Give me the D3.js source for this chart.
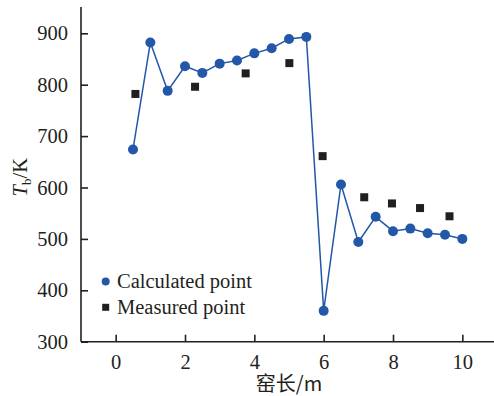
<!DOCTYPE html>
<html>
<head>
<meta charset="utf-8">
<script src="https://cdn.jsdelivr.net/npm/d3@7"></script>
<style>
  body { margin: 0; background: #fff; }
  svg text { font-family: "Liberation Serif", "Times New Roman", serif; fill: #231f20; }
</style>
</head>
<body>
<div id="chart"></div>
<script>
// calculated points (blue, connected)
const calcX = [0.5, 1, 1.5, 2, 2.5, 3, 3.5, 4, 4.5, 5, 5.5, 6, 6.5, 7, 7.5, 8, 8.5, 9, 9.5, 10];
const calcY = [674, 882, 788, 836, 823, 841, 847, 861, 871, 889, 893, 360, 606, 494, 543, 515, 520, 511, 508, 500];
// measured points (black squares)
const measX = [0.57, 2.29, 3.75, 5.01, 5.97, 7.17, 7.97, 8.78, 9.63];
const measY = [782, 796, 822, 842, 661, 581, 569, 560, 544];

const xTicks = [0, 2, 4, 6, 8, 10];
const yTicks = [300, 400, 500, 600, 700, 800, 900];

const W = 494, H = 396;
const blue = '#2358a8', dark = '#231f20';
const fs = 20.5;

const svg = d3.select('#chart').append('svg')
  .attr('width', W)
  .attr('height', H);

const x = d3.scaleLinear().domain([-1, 11]).range([81, 497]);
const y = d3.scaleLinear().domain([300, 900]).range([341.7, 33.3]);

// axes, ticks point inward
const xAxis = d3.axisBottom(x).tickValues(xTicks).tickSizeInner(-7).tickSizeOuter(0).tickPadding(13);
const yAxis = d3.axisLeft(y).tickValues(yTicks).tickSizeInner(-7).tickSizeOuter(0).tickPadding(13);

const gx = svg.append('g').attr('transform', `translate(0,${y(300)})`).call(xAxis);
gx.select('.domain').attr('d', `M${x(-1)},0H${W}`);
const gy = svg.append('g').attr('transform', `translate(${x(-1)},0)`).call(yAxis);
gy.select('.domain').attr('d', `M0,${y(300)}V7`);

svg.selectAll('.domain, .tick line').attr('stroke', dark).attr('stroke-width', 1.6);
svg.selectAll('.tick text').attr('font-size', fs).attr('fill', dark)
  .style('font-family', '"Liberation Serif", serif');

// axis titles
svg.append('text')
  .attr('x', x(5)).attr('y', 391)
  .attr('text-anchor', 'middle')
  .attr('font-size', 20)
  .style('font-family', '"Noto Sans CJK SC", sans-serif')
  .text('窑长/m');

const yl = svg.append('text')
  .attr('transform', `translate(27,${y(620)}) rotate(-90)`)
  .attr('text-anchor', 'middle')
  .attr('font-size', fs);
yl.append('tspan').attr('font-style', 'italic').text('T');
yl.append('tspan').attr('font-size', 13).attr('dy', 4).text('b');
yl.append('tspan').attr('dy', -4).text('/K');

// calculated line + points
const calc = calcX.map((d, i) => [d, calcY[i]]);
const line = d3.line().x(d => x(d[0])).y(d => y(d[1]));

svg.append('path')
  .datum(calc)
  .attr('d', line)
  .attr('fill', 'none')
  .attr('stroke', blue)
  .attr('stroke-width', 1.5);

svg.selectAll('.calc')
  .data(calc)
  .enter()
  .append('circle')
  .attr('class', 'calc')
  .attr('cx', d => x(d[0]))
  .attr('cy', d => y(d[1]))
  .attr('r', 5)
  .attr('fill', blue);

// measured squares
const meas = measX.map((d, i) => [d, measY[i]]);
const sq = 8;
svg.selectAll('.meas')
  .data(meas)
  .enter()
  .append('rect')
  .attr('class', 'meas')
  .attr('x', d => x(d[0]) - sq / 2)
  .attr('y', d => y(d[1]) - sq / 2)
  .attr('width', sq)
  .attr('height', sq)
  .attr('fill', dark);

// legend
const lg = svg.append('g');
lg.append('circle').attr('cx', 105.7).attr('cy', 281.5).attr('r', 4).attr('fill', blue);
lg.append('text').attr('x', 117).attr('y', 287.5).attr('font-size', fs).text('Calculated point');
lg.append('rect').attr('x', 102.2).attr('y', 303.8).attr('width', 7).attr('height', 7).attr('fill', dark);
lg.append('text').attr('x', 117).attr('y', 313.5).attr('font-size', fs).text('Measured point');
</script>
</body>
</html>
